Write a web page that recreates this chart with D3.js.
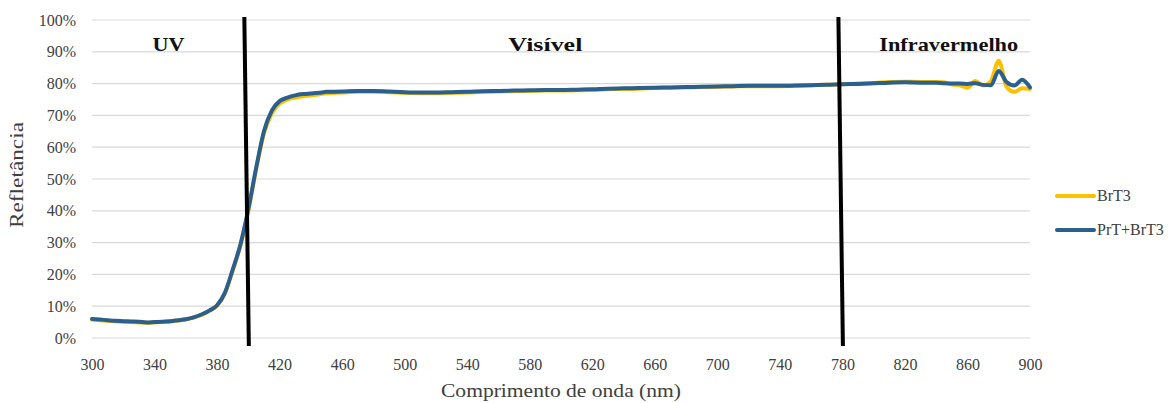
<!DOCTYPE html>
<html><head><meta charset="utf-8">
<script src="https://cdn.jsdelivr.net/npm/d3@7"></script>
<style>body{margin:0;background:#fff}svg{display:block}</style>
</head><body><svg id="c" width="1171" height="403"></svg>
<script>
const wavelengths = [300,305,310,315,320,325,330,335,340,345,350,355,360,365,370,375,380,385,390,395,400,405,410,415,420,425,430,435,440,445,450,
460,470,480,490,500,510,520,530,540,550,560,570,580,590,600,610,620,630,640,650,660,670,680,690,700,710,720,730,740,750,760,770,780,790,800,810,820,830,840,
845,850,855,860,865,870,875,880,885,890,895,900];
const prtBrt3 = [6.0,5.8,5.6,5.4,5.3,5.2,5.1,4.9,5.0,5.1,5.3,5.6,5.9,6.5,7.4,8.6,10.3,14.2,21.5,29.5,40.5,53.5,65.0,71.5,74.5,75.6,76.3,76.7,76.9,77.1,77.4,
77.5,77.7,77.7,77.5,77.3,77.2,77.2,77.3,77.4,77.6,77.7,77.8,77.9,78.0,78.0,78.1,78.2,78.4,78.5,78.6,78.7,78.8,78.9,79.0,79.1,79.2,79.3,79.3,79.3,79.4,79.5,79.6,79.8,79.9,80.1,80.3,80.4,80.3,80.3,
80.1,80.0,80.0,79.9,80.1,79.6,79.5,84.0,80.5,79.4,81.2,78.8];
const brt3 = [5.8,5.6,5.4,5.2,5.1,5.0,4.9,4.8,4.9,5.0,5.2,5.5,5.8,6.4,7.3,8.5,10.2,14.0,21.2,29.2,40.0,53.0,64.3,70.6,73.7,75.0,75.6,76.0,76.3,76.6,77.0,
77.2,77.4,77.4,77.3,77.1,77.0,77.0,77.1,77.2,77.4,77.5,77.6,77.7,77.8,77.8,77.9,78.0,78.2,78.3,78.4,78.6,78.7,78.8,78.9,79.0,79.1,79.2,79.2,79.2,79.3,79.5,79.6,79.8,80.0,80.2,80.5,80.6,80.5,80.5,
80.4,79.7,79.5,78.7,80.8,79.4,80.8,87.2,79.0,77.4,78.5,78.3];
const xTicks = [300,340,380,420,460,500,540,580,620,660,700,740,780,820,860,900];
const yTicks = [0,10,20,30,40,50,60,70,80,90,100];
const regions = [{label:"UV", at:349},{label:"Visível", at:590},{label:"Infravermelho", at:848}];
const boundaries = [400,780];
const seriesNames = ["BrT3","PrT+BrT3"];
const colors = ["#FFC000","#2B5F8E"];

const FONT = '"Liberation Serif", "Times New Roman", serif';
const svg = d3.select("#c");
const x = d3.scaleLinear().domain([300,900]).range([92,1030]);
const y = d3.scaleLinear().domain([0,100]).range([338,20]);

// gridlines
svg.append("g").selectAll("line").data(yTicks).join("line")
  .attr("x1",x(300)).attr("x2",x(900)).attr("y1",d=>y(d)).attr("y2",d=>y(d))
  .attr("stroke","#d9d9d9").attr("stroke-width",1.2);

// y axis labels
const yAxis = d3.axisLeft(y).tickValues(yTicks).tickFormat(d=>d+"%").tickSize(0).tickPadding(0);
const gy = svg.append("g").attr("transform","translate(76,0)").call(yAxis);
gy.attr("font-family",null);
gy.select(".domain").remove();
gy.selectAll("text").style("font-size","16px").style("font-family",FONT).style("fill","#404040");

// x axis labels
const xAxis = d3.axisBottom(x).tickValues(xTicks).tickFormat(d3.format("d")).tickSize(0).tickPadding(0);
const gx = svg.append("g").attr("transform","translate(0,359)").call(xAxis);
gx.attr("font-family",null);
gx.select(".domain").remove();
gx.selectAll("text").style("font-size","16px").style("font-family",FONT).style("fill","#404040");

// lines
const line = d3.line().x((d,i)=>x(wavelengths[i])).y(d=>y(d)).curve(d3.curveMonotoneX);
[brt3, prtBrt3].forEach((s,k)=>{
  svg.append("path").attr("d",line(s)).attr("fill","none").attr("stroke",colors[k])
    .attr("stroke-width",4).attr("stroke-linejoin","round").attr("stroke-linecap","round");
});

// boundary lines (slightly slanted)
svg.append("g").selectAll("line").data(boundaries).join("line")
  .attr("x1",d=>x(d)-4).attr("y1",y(100)-3).attr("x2",d=>x(d)+0.5).attr("y2",y(0)+8)
  .attr("stroke","#000").attr("stroke-width",4);

// region labels
const regionWidths = [32,74,139];
svg.append("g").selectAll("text").data(regions).join("text")
  .attr("x",d=>x(d.at)).attr("y",51).attr("text-anchor","middle")
  .attr("textLength",(d,i)=>regionWidths[i]).attr("lengthAdjust","spacingAndGlyphs")
  .style("font-family",FONT).style("font-weight","bold").style("font-size","19px").style("fill","#111")
  .text(d=>d.label);

// axis titles
svg.append("text").attr("x",561).attr("y",397).attr("text-anchor","middle")
  .attr("textLength",240).attr("lengthAdjust","spacingAndGlyphs")
  .style("font-family",FONT).style("font-size","18px").style("fill","#404040").text("Comprimento de onda (nm)");
svg.append("text").attr("transform","translate(23,175) rotate(-90)").attr("text-anchor","middle")
  .attr("textLength",106).attr("lengthAdjust","spacingAndGlyphs")
  .style("font-family",FONT).style("font-size","18px").style("fill","#404040").text("Refletância");

// legend
const lg = svg.append("g").selectAll("g").data(seriesNames).join("g")
  .attr("transform",(d,i)=>`translate(1057,${196+i*34})`);
lg.append("line").attr("x1",0).attr("x2",37).attr("y1",0).attr("y2",0)
  .attr("stroke",(d,i)=>colors[i]).attr("stroke-width",4).attr("stroke-linecap","round");
lg.append("text").attr("x",40).attr("y",5)
  .style("font-family",FONT).style("font-size","16px").style("fill","#404040").text(d=>d);
</script></body></html>
